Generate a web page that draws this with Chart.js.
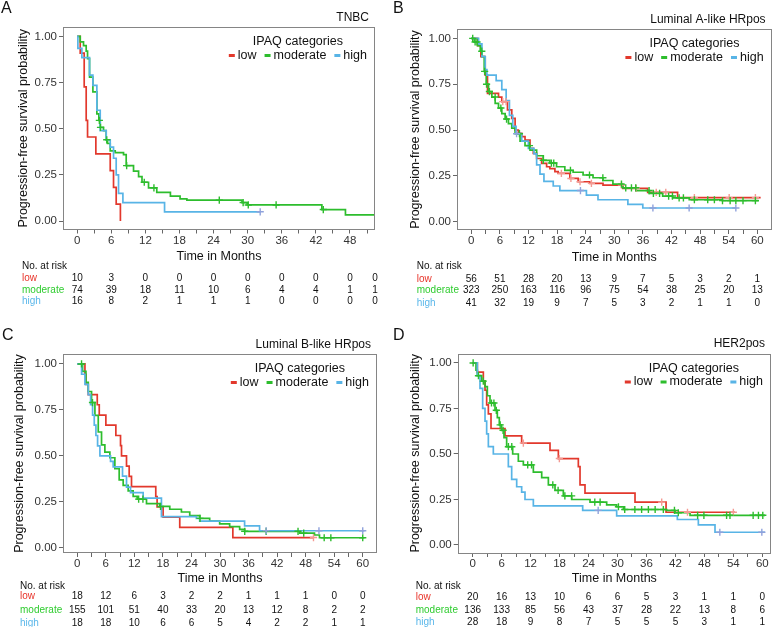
<!DOCTYPE html>
<html>
<head>
<meta charset="utf-8">
<script src="https://cdn.jsdelivr.net/npm/chart.js@4.4.0/dist/chart.umd.min.js"></script>
<style>
  body { margin: 0; background: #fff; width: 777px; height: 627px; position: relative; overflow: hidden; }
  canvas { position: absolute; }
</style>
</head>
<body>
<canvas id="chartA" width="388" height="313" style="left:0;top:0"></canvas>
<canvas id="chartB" width="388" height="313" style="left:389px;top:0"></canvas>
<canvas id="chartC" width="388" height="313" style="left:0;top:314px"></canvas>
<canvas id="chartD" width="388" height="313" style="left:389px;top:314px"></canvas>
<script>
// groups and colours
const groupNames = ['low', 'moderate', 'high'];
const lineColors = ['#e2382c', '#2dbd2d', '#58b4e6'];
const censorColors = ['#f49a93', '#2dbd2d', '#8fa2dc'];
const tableColors = ['#e8342a', '#2fcc2f', '#5ab7ea'];

const yTicks = [0, 0.25, 0.5, 0.75, 1];
const monthTicksA = [0, 3, 6, 9, 12, 15, 18, 21, 24, 27, 30, 33, 36, 39, 42, 45, 48, 51];
const monthTicks = [0, 3, 6, 9, 12, 15, 18, 21, 24, 27, 30, 33, 36, 39, 42, 45, 48, 51, 54, 57, 60];

// ---- A: TNBC ----
const aLowT = [0, 0.53, 1.23, 1.58, 1.82, 3.28, 5.81, 6.39, 6.86, 7.6];
const aLowS = [1, 0.909, 0.727, 0.545, 0.455, 0.364, 0.273, 0.182, 0.091, 0];
const aLowC = [];
const aModT = [0, 0.53, 1.11, 1.58, 1.82, 2.17, 2.76, 3.46, 3.81, 4.05, 4.63, 5.1, 5.34, 5.81, 6.69, 8.15, 8.62, 9.91, 10.8, 11.4, 12.55, 14.0, 16.4, 18.1, 19.3, 29.0, 29.9, 43.05, 47.2, 52.4];
const aModS = [1, 0.97, 0.95, 0.92, 0.88, 0.78, 0.70, 0.58, 0.545, 0.507, 0.49, 0.44, 0.42, 0.38, 0.37, 0.36, 0.30, 0.27, 0.24, 0.21, 0.18, 0.155, 0.135, 0.12, 0.113, 0.10, 0.087, 0.062, 0.033, 0.033];
const aModC = [3.9, 4.1, 5.2, 8.7, 11.8, 13.5, 25.0, 29.2, 30.1, 35.0, 43.3];
const aHighT = [0, 0.12, 0.82, 2.17, 2.76, 3.46, 4.05, 5.1, 5.81, 6.39, 6.86, 7.27, 8.04, 15.37, 32.2];
const aHighS = [1, 0.935, 0.885, 0.79, 0.735, 0.6, 0.49, 0.44, 0.40, 0.34, 0.25, 0.15, 0.1, 0.05, 0.05];
const aHighC = [32.2];
const riskTimesA = [0, 6, 12, 18, 24, 30, 36, 42, 48, 52.4];
const riskLowA = [10, 3, 0, 0, 0, 0, 0, 0, 0, 0];
const riskModA = [74, 39, 18, 11, 10, 6, 4, 4, 1, 1];
const riskHighA = [16, 8, 2, 1, 1, 1, 0, 0, 0, 0];

// ---- B: Luminal A-like HRpos ----
const bLowT = [0, 1.32, 2.0, 2.92, 3.4, 5.71, 6.4, 7.59, 8.49, 9.19, 9.88, 10.58, 11.27, 12.32, 13.01, 13.71, 14.75, 15.8, 16.49, 17.54, 18.23, 20.67, 22.41, 24.84, 27.63, 31.8, 37.0, 43.28, 60.7];
const bLowS = [1, 0.96, 0.90, 0.80, 0.70, 0.68, 0.655, 0.61, 0.564, 0.5, 0.482, 0.464, 0.445, 0.4, 0.373, 0.345, 0.318, 0.30, 0.29, 0.273, 0.264, 0.236, 0.218, 0.209, 0.2, 0.182, 0.16, 0.131, 0.131];
const bLowC = [6.6, 7.3, 18.9, 20.9, 22.8, 25.2, 31.5, 34.6, 38.8, 40.8, 46.8, 54.1, 59.6];
const bModT = [0, 0.63, 1.32, 1.88, 2.23, 2.71, 3.13, 3.62, 4.31, 5.01, 5.71, 6.4, 7.1, 7.79, 8.49, 9.19, 10.23, 11.27, 12.32, 13.71, 15.1, 16.49, 17.88, 19.62, 21.36, 23.45, 25.54, 27.63, 29.71, 31.8, 34.59, 37.37, 40.15, 42.24, 45.72, 52.68, 60.3];
const bModS = [1, 0.98, 0.96, 0.93, 0.90, 0.82, 0.75, 0.71, 0.68, 0.645, 0.62, 0.59, 0.56, 0.535, 0.51, 0.48, 0.44, 0.415, 0.39, 0.36, 0.335, 0.32, 0.30, 0.28, 0.27, 0.255, 0.24, 0.225, 0.205, 0.185, 0.17, 0.155, 0.14, 0.13, 0.12, 0.115, 0.115];
const bModC = [0.3, 0.8, 1.2, 2.2, 2.8, 3.2, 3.8, 5.0, 6.2, 7.4, 10.1, 12.2, 15.1, 16.8, 17.3, 20.8, 24.8, 27.6, 31.5, 32.4, 33.6, 34.5, 37.3, 38.2, 39.5, 41.4, 42.2, 43.6, 44.5, 46.8, 49.6, 51, 52.7, 54.3, 55.5, 57, 59.6];
const bHighT = [0, 1.53, 2.23, 2.92, 3.27, 5.22, 6.4, 7.31, 8.0, 8.7, 9.39, 10.58, 11.97, 13.15, 13.71, 14.41, 15.24, 17.19, 18.58, 24.15, 26.58, 32.85, 35.98, 55.5];
const bHighS = [1, 0.97, 0.90, 0.83, 0.80, 0.77, 0.72, 0.66, 0.58, 0.52, 0.48, 0.44, 0.40, 0.37, 0.31, 0.26, 0.22, 0.195, 0.17, 0.145, 0.12, 0.095, 0.075, 0.075];
const bHighC = [9.5, 22.9, 38.1, 45.7, 55.5];
const riskTimes = [0, 6, 12, 18, 24, 30, 36, 42, 48, 54, 60];
const riskLowB = [56, 51, 28, 20, 13, 9, 7, 5, 3, 2, 1];
const riskModB = [323, 250, 163, 116, 96, 75, 54, 38, 25, 20, 13];
const riskHighB = [41, 32, 19, 9, 7, 5, 3, 2, 1, 1, 0];

// ---- C: Luminal B-like HRpos ----
const cLowT = [0, 1.61, 1.82, 2.31, 4.2, 4.62, 6.01, 8.11, 9.09, 9.3, 10.35, 10.91, 11.4, 16.5, 16.78, 18.04, 21.54, 32.7, 49.65];
const cLowS = [1, 0.944, 0.889, 0.833, 0.778, 0.722, 0.667, 0.611, 0.556, 0.5, 0.444, 0.389, 0.333, 0.278, 0.222, 0.167, 0.111, 0.056, 0.056];
const cLowC = [49.65];
const cModT = [0, 1.12, 1.82, 2.31, 3.0, 3.71, 4.41, 5.1, 5.8, 6.85, 7.9, 8.81, 9.65, 10.7, 11.75, 12.59, 14.55, 17.34, 19.44, 21.89, 23.64, 25.73, 27.83, 29.93, 32.03, 34.13, 35.17, 46.71, 49.86, 50.91, 60.35];
const cModS = [1, 0.96, 0.90, 0.85, 0.79, 0.72, 0.63, 0.56, 0.52, 0.49, 0.43, 0.37, 0.34, 0.31, 0.28, 0.265, 0.24, 0.225, 0.21, 0.195, 0.175, 0.16, 0.145, 0.13, 0.115, 0.10, 0.09, 0.08, 0.07, 0.055, 0.055];
const cModC = [0.9, 3.2, 12.9, 13.8, 17.5, 25.8, 35.2, 39.7, 46.4, 47.6, 51.9, 53.3, 60.0];
const cHighT = [0, 0.91, 1.61, 2.31, 2.8, 3.22, 3.57, 3.92, 4.27, 4.76, 6.99, 7.55, 9.51, 10.35, 11.19, 13.85, 17.69, 25.03, 25.73, 35.17, 38.32, 60.35];
const cHighS = [1, 0.944, 0.889, 0.833, 0.778, 0.722, 0.667, 0.611, 0.555, 0.50, 0.47, 0.44, 0.39, 0.33, 0.30, 0.27, 0.17, 0.16, 0.145, 0.12, 0.093, 0.093];
const cHighC = [39.7, 50.8, 60.0];
const riskLowC = [18, 12, 6, 3, 2, 2, 1, 1, 1, 0, 0];
const riskModC = [155, 101, 51, 40, 33, 20, 13, 12, 8, 2, 2];
const riskHighC = [18, 18, 10, 6, 6, 5, 4, 2, 2, 1, 1];

// ---- D: HER2pos ----
const dLowT = [0, 0.97, 2.21, 2.56, 2.9, 3.25, 3.8, 6.7, 10.15, 16.02, 17.75, 21.89, 22.24, 23.27, 33.63, 40.06, 54.35];
const dLowS = [1, 0.95, 0.90, 0.85, 0.77, 0.72, 0.64, 0.60, 0.56, 0.52, 0.475, 0.43, 0.33, 0.285, 0.235, 0.18, 0.18];
const dLowC = [10.5, 17.96, 39.16, 44.5, 54.0];
const dModT = [0, 0.69, 0.97, 1.86, 2.56, 3.04, 3.59, 4.63, 5.11, 5.52, 6.0, 6.49, 7.04, 8.29, 9.46, 10.5, 12.57, 14.3, 15.68, 17.06, 18.78, 20.51, 24.31, 27.76, 29.83, 31.22, 40.19, 41.92, 45.03, 60.57];
const dModS = [1, 0.96, 0.93, 0.90, 0.87, 0.82, 0.78, 0.74, 0.70, 0.66, 0.63, 0.59, 0.54, 0.50, 0.46, 0.44, 0.40, 0.37, 0.33, 0.30, 0.27, 0.25, 0.235, 0.22, 0.21, 0.195, 0.19, 0.177, 0.163, 0.163];
const dModC = [0.1, 1.2, 2.2, 3.9, 4.4, 4.9, 5.7, 6.3, 7.4, 8.1, 11.4, 12.2, 16.6, 17.7, 19.1, 20.5, 25.3, 26.4, 30.2, 31.5, 33.6, 35.0, 36.4, 37.8, 39.5, 41.8, 42.6, 46.6, 47.9, 52.6, 53.3, 58.1, 59.2, 60.1];
const dHighT = [0, 0.97, 1.52, 2.07, 2.56, 2.9, 3.25, 4.28, 7.39, 8.08, 9.12, 10.15, 10.84, 12.57, 22.79, 29.83, 42.4, 46.75, 50.2, 60.57];
const dHighS = [1, 0.93, 0.86, 0.75, 0.68, 0.61, 0.54, 0.50, 0.43, 0.36, 0.32, 0.29, 0.25, 0.215, 0.19, 0.16, 0.14, 0.11, 0.07, 0.07];
const dHighC = [26.0, 51.2, 59.9];
const riskLowD = [20, 16, 13, 10, 6, 6, 5, 3, 1, 1, 0];
const riskModD = [136, 133, 85, 56, 43, 37, 28, 22, 13, 8, 6];
const riskHighD = [28, 18, 9, 8, 7, 5, 5, 5, 3, 1, 1];

const FONT = '"Liberation Sans", Arial, Helvetica, sans-serif';
Chart.defaults.font.family = FONT;
Chart.defaults.color = '#333';

// page-pixel layout of each panel
const panels = [
  { id: 'chartA', letter: 'A', title: 'TNBC', ox: 0, oy: 0, area: [63, 27, 375, 229.5],
    xr: [-2.5, 52.4], yr: [-0.046, 1.051], ticks: monthTicksA,
    curves: [[aLowT, aLowS, aLowC], [aModT, aModS, aModC], [aHighT, aHighS, aHighC]],
    riskT: riskTimesA, risk: [riskLowA, riskModA, riskHighA],
    letterXY: [1, 7], yTitleX: 23.5, xTitleY: 257, tableX: 22, tableY: [264.3, 276.7, 288.3, 300] },
  { id: 'chartB', letter: 'B', title: 'Luminal A-like HRpos', ox: 389, oy: 0, area: [457, 29, 772, 230],
    xr: [-3, 63], yr: [-0.045, 1.051], ticks: monthTicks,
    curves: [[bLowT, bLowS, bLowC], [bModT, bModS, bModC], [bHighT, bHighS, bHighC]],
    riskT: riskTimes, risk: [riskLowB, riskModB, riskHighB],
    letterXY: [393, 7], yTitleX: 416, xTitleY: 257.3, tableX: 416.7, tableY: [265, 277.3, 289, 301.7] },
  { id: 'chartC', letter: 'C', title: 'Luminal B-like HRpos', ox: 0, oy: 314, area: [63, 354, 377, 553],
    xr: [-3, 63], yr: [-0.028, 1.054], ticks: monthTicks,
    curves: [[cLowT, cLowS, cLowC], [cModT, cModS, cModC], [cHighT, cHighS, cHighC]],
    riskT: riskTimes, risk: [riskLowC, riskModC, riskHighC],
    letterXY: [2, 334], yTitleX: 20, xTitleY: 578.3, tableX: 20, tableY: [584.5, 594.7, 608.3, 621.5] },
  { id: 'chartD', letter: 'D', title: 'HER2pos', ox: 389, oy: 314, area: [457.7, 353.5, 771, 553],
    xr: [-3.1, 61.8], yr: [-0.044, 1.052], ticks: monthTicks,
    curves: [[dLowT, dLowS, dLowC], [dModT, dModS, dModC], [dHighT, dHighS, dHighC]],
    riskT: riskTimes, risk: [riskLowD, riskModD, riskHighD],
    letterXY: [393, 334], yTitleX: 416, xTitleY: 579, tableX: 415.7, tableY: [584.3, 595.7, 608.3, 621] }
];

// survival value of a KM step curve at time t
function stepValue(ts, ss, t) {
  let v = ss[0];
  for (let i = 0; i < ts.length; i++) if (ts[i] <= t) v = ss[i];
  return v;
}

function makeDecor(p) {
  return {
    id: 'kmDecor',
    afterDraw(chart) {
      const ctx = chart.ctx, a = chart.chartArea, xs = chart.scales.x;
      const dy = 1.5; // nudge for middle baseline
      ctx.save();
      // panel frame
      ctx.strokeStyle = '#858585';
      ctx.lineWidth = 1;
      ctx.strokeRect(Math.round(a.left) + 0.5, Math.round(a.top) + 0.5,
        Math.round(a.right - a.left) - 1, Math.round(a.bottom - a.top) - 1);
      // panel letter
      ctx.fillStyle = '#111';
      ctx.textBaseline = 'middle';
      ctx.textAlign = 'left';
      ctx.font = '16px ' + FONT;
      ctx.fillText(p.letter, p.letterXY[0] - p.ox, p.letterXY[1] - p.oy + dy);
      // subtype title
      ctx.font = '12px ' + FONT;
      ctx.textAlign = 'right';
      ctx.fillText(p.title, a.right - 6, a.top - 11 + dy);
      // legend
      ctx.font = '12.5px ' + FONT;
      const dash = 6, gapIn = 3, gapOut = 8;
      const widths = groupNames.map(n => ctx.measureText(n).width);
      const total = widths.reduce((s, w) => s + dash + gapIn + w, 0) + gapOut * (groupNames.length - 1);
      let lx = a.right - 8 - total;
      const ly = a.top + 27 + dy;
      ctx.textAlign = 'center';
      ctx.fillText('IPAQ categories', lx + total / 2, a.top + 13.5 + dy);
      ctx.textAlign = 'left';
      groupNames.forEach((n, i) => {
        ctx.fillStyle = lineColors[i];
        ctx.fillRect(lx, ly - 1.5, dash, 3);
        lx += dash + gapIn;
        ctx.fillStyle = '#111';
        ctx.fillText(n, lx, ly);
        lx += widths[i] + gapOut;
      });
      // risk table
      ctx.font = '10px ' + FONT;
      ctx.fillStyle = '#111';
      ctx.fillText('No. at risk', p.tableX - p.ox, p.tableY[0] - p.oy + dy);
      groupNames.forEach((n, i) => {
        const y = p.tableY[i + 1] - p.oy + dy;
        ctx.textAlign = 'left';
        ctx.fillStyle = tableColors[i];
        ctx.fillText(n, p.tableX - p.ox, y);
        ctx.textAlign = 'center';
        ctx.fillStyle = '#111';
        p.risk[i].forEach((v, k) => ctx.fillText(String(v), xs.getPixelForValue(p.riskT[k]), y));
      });
      ctx.restore();
    }
  };
}

panels.forEach(p => {
  const cvs = document.getElementById(p.id);
  const W = cvs.width, H = cvs.height;
  const left = p.area[0] - p.ox, top = p.area[1] - p.oy, right = p.area[2] - p.ox, bottom = p.area[3] - p.oy;

  const censorSets = [], lineSets = [];
  p.curves.forEach(([ts, ss, cs], g) => {
    lineSets.unshift({
      label: groupNames[g],
      data: ts.map((t, i) => ({ x: t, y: ss[i] })),
      borderColor: lineColors[g],
      borderWidth: 1.7,
      stepped: true,
      pointRadius: 0,
      fill: false
    });
    censorSets.unshift({
      label: groupNames[g] + ' censored',
      data: cs.map(t => ({ x: t, y: stepValue(ts, ss, t) })),
      showLine: false,
      pointStyle: 'cross',
      pointRadius: 3.6,
      borderWidth: 1.4,
      borderColor: censorColors[g],
      backgroundColor: censorColors[g]
    });
  });

  new Chart(cvs, {
    type: 'line',
    data: { datasets: censorSets.concat(lineSets) },
    options: {
      responsive: false,
      animation: false,
      layout: { padding: { left: 0, top: top, right: W - right, bottom: 0 } },
      plugins: { legend: { display: false }, tooltip: { enabled: false } },
      scales: {
        x: {
          type: 'linear',
          min: p.xr[0], max: p.xr[1],
          afterBuildTicks: s => { s.ticks = p.ticks.map(v => ({ value: v })); },
          afterFit: s => { s.height = H - bottom; },
          ticks: {
            autoSkip: false, maxRotation: 0, padding: 0, color: '#333',
            font: { size: 11.5 },
            callback: v => (v % 6 === 0 ? String(v) : '')
          },
          grid: { drawOnChartArea: false, tickLength: 4, color: '#666' },
          border: { display: false },
          title: {
            display: true, text: 'Time in Months', color: '#111',
            font: { size: 12.5 },
            padding: { top: 0, bottom: H - (p.xTitleY - p.oy) - 7.5 }
          }
        },
        y: {
          min: p.yr[0], max: p.yr[1],
          afterBuildTicks: s => { s.ticks = yTicks.map(v => ({ value: v })); },
          afterFit: s => { s.width = left; },
          ticks: {
            padding: 2, color: '#333', font: { size: 11.5 },
            callback: v => v.toFixed(2)
          },
          grid: { drawOnChartArea: false, tickLength: 4, color: '#666' },
          border: { display: false },
          title: {
            display: true, text: 'Progression-free survival probability', color: '#111',
            font: { size: 12.5 },
            padding: { top: (p.yTitleX - p.ox) - 7.5, bottom: 0 }
          }
        }
      }
    },
    plugins: [makeDecor(p)]
  });
});
</script>
</body>
</html>
